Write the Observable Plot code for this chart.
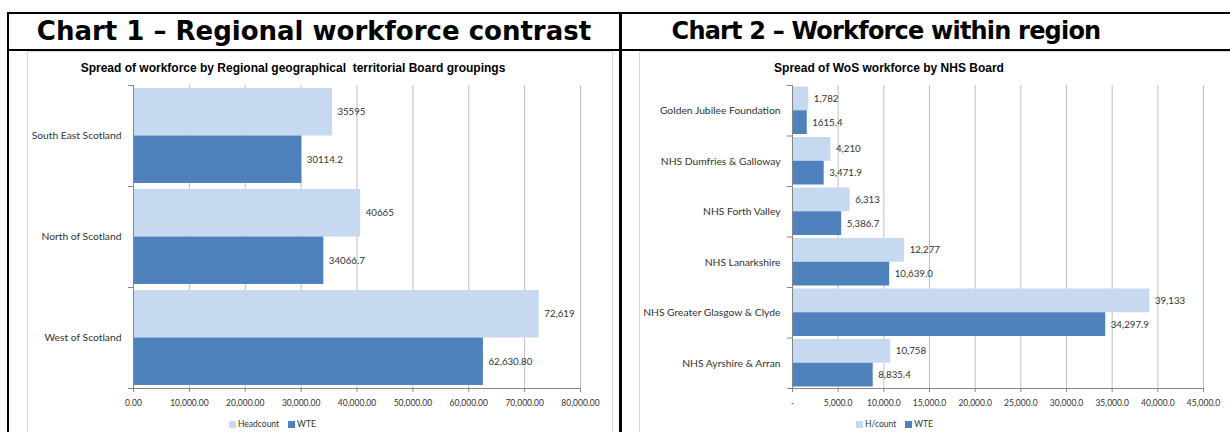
<!DOCTYPE html>
<html><head><meta charset="utf-8">
<script src="https://cdn.jsdelivr.net/npm/d3@7"></script>
<script src="https://cdn.jsdelivr.net/npm/@observablehq/plot@0.6"></script>
<style>
html,body{margin:0;padding:0;background:#fff;width:1230px;height:432px;overflow:hidden;position:relative;font-family:Lato,"Liberation Sans",Arial,sans-serif;}
.line{position:absolute;background:#000;}
.box{position:absolute;border:1px solid #d9d9d9;box-sizing:border-box;}
.title{position:absolute;top:13px;font-family:"DejaVu Sans",Verdana,sans-serif;font-weight:bold;font-size:26px;line-height:36px;color:#000;white-space:nowrap;transform:translateX(-50%);}
.sub{position:absolute;top:61px;font-family:"Liberation Sans",Arial,sans-serif;font-weight:bold;font-size:12px;line-height:14px;color:#000;white-space:pre;transform:translateX(-50%);}
.chart{position:absolute;top:80px;}
.chart svg text{fill:#333;}
.legend{position:absolute;top:417px;font-size:8.5px;line-height:14px;color:#333;display:flex;align-items:center;white-space:nowrap;}
.legend .sw{display:inline-block;width:7px;height:7px;margin-right:2px;}
.legend .it{display:flex;align-items:center;margin-right:9px;}
</style>
</head>
<body>
<div class="line" style="left:7px;top:12px;width:1223px;height:2px"></div>
<div class="line" style="left:7px;top:49px;width:1223px;height:2px"></div>
<div class="line" style="left:7px;top:12px;width:2px;height:420px"></div>
<div class="line" style="left:619px;top:12px;width:3px;height:420px"></div>
<div class="box" style="left:27px;top:51px;width:586px;height:400px"></div>
<div class="box" style="left:639px;top:51px;width:620px;height:400px"></div>
<div class="title" style="left:314px">Chart 1 – Regional workforce contrast</div>
<div class="title" style="left:886px;font-size:24px;letter-spacing:-0.8px">Chart 2 – Workforce within region</div>
<div class="sub" style="left:293px">Spread of workforce by Regional geographical  territorial Board groupings</div>
<div class="sub" style="left:889px">Spread of WoS workforce by NHS Board</div>
<div id="c1" class="chart" style="left:0px"></div>
<div id="c2" class="chart" style="left:620px"></div>
<div id="l1" class="legend" style="left:229px"></div>
<div id="l2" class="legend" style="left:856px"></div>
<script>
// ---- Chart 1 data ----
const regions = ["South East Scotland", "North of Scotland", "West of Scotland"];
const regionSeries = ["Headcount", "WTE"];
const regionHeadcount = [35595, 40665, 72619];
const regionWTE = [30114.2, 34066.7, 62630.80];
const regionHeadcountLabels = ["35595", "40665", "72,619"];
const regionWTELabels = ["30114.2", "34066.7", "62,630.80"];
const regionTicks = [0, 10000, 20000, 30000, 40000, 50000, 60000, 70000, 80000];

// ---- Chart 2 data ----
const boards = ["Golden Jubilee Foundation", "NHS Dumfries & Galloway", "NHS Forth Valley", "NHS Lanarkshire", "NHS Greater Glasgow & Clyde", "NHS Ayrshire & Arran"];
const boardSeries = ["H/count", "WTE"];
const boardHeadcount = [1782, 4210, 6313, 12277, 39133, 10758];
const boardWTE = [1615.4, 3471.9, 5386.7, 10639.0, 34297.9, 8835.4];
const boardHeadcountLabels = ["1,782", "4,210", "6,313", "12,277", "39,133", "10,758"];
const boardWTELabels = ["1615.4", "3,471.9", "5,386.7", "10,639.0", "34,297.9", "8,835.4"];
const boardTicks = [0, 5000, 10000, 15000, 20000, 25000, 30000, 35000, 40000, 45000];

const colors = ["#c6d9f1", "#4f81bd"];
const FONT = "Lato,'Liberation Sans',Arial,sans-serif";

function buildRows(cats, series, a, b, la, lb) {
  const pad = 0.03;
  const rows = [];
  cats.forEach((c, i) => {
    rows.push({cat: c, i, series: series[0], value: a[i], label: la[i], y1: i + pad, y2: i + 0.5});
    rows.push({cat: c, i, series: series[1], value: b[i], label: lb[i], y1: i + 0.5, y2: i + 1 - pad});
  });
  return rows;
}

function chart({cats, series, rows, ticks, fmt, width, ml, mr}) {
  const n = cats.length;
  return Plot.plot({
    width, height: 330,
    marginLeft: ml, marginRight: mr, marginTop: 5, marginBottom: 22,
    style: {fontFamily: FONT, fontSize: "8.5px", color: "#868686", background: "none", overflow: "visible"},
    x: {domain: [ticks[0], ticks[ticks.length - 1]], ticks, tickFormat: fmt, tickSize: 4, tickPadding: 7, label: null},
    y: {domain: [0, n], reverse: true, ticks: d3.range(n + 1), tickFormat: () => "", tickSize: 5, label: null},
    color: {domain: series, range: colors},
    marks: [
      Plot.ruleX(ticks, {stroke: "#bfbfbf"}),
      Plot.rect(rows, {x1: 0, x2: "value", y1: "y1", y2: "y2", fill: "series"}),
      Plot.ruleX([0], {stroke: "#868686"}),
      Plot.ruleY([n], {stroke: "#868686"}),
      Plot.text(rows, {x: "value", y: d => (d.y1 + d.y2) / 2, text: "label", textAnchor: "start", dx: 5, fontSize: 9.7}),
      Plot.text(cats, {x: 0, y: (d, i) => i + 0.5, text: d => d, textAnchor: "end", dx: -12, fontSize: 10.3})
    ]
  });
}

document.getElementById("c1").appendChild(chart({
  cats: regions, series: regionSeries,
  rows: buildRows(regions, regionSeries, regionHeadcount, regionWTE, regionHeadcountLabels, regionWTELabels),
  ticks: regionTicks, fmt: d3.format(",.2f"), width: 612, ml: 133, mr: 32
}));
document.getElementById("c2").appendChild(chart({
  cats: boards, series: boardSeries,
  rows: buildRows(boards, boardSeries, boardHeadcount, boardWTE, boardHeadcountLabels, boardWTELabels),
  ticks: boardTicks, fmt: d => d === 0 ? "-" : d3.format(",.1f")(d), width: 610, ml: 172, mr: 27
}));

function legend(id, series) {
  const el = document.getElementById(id);
  series.forEach((s, i) => {
    const it = document.createElement("span");
    it.className = "it";
    it.innerHTML = `<span class="sw" style="background:${colors[i]}"></span>${s}`;
    el.appendChild(it);
  });
}
legend("l1", regionSeries);
legend("l2", boardSeries);
</script>
</body></html>
